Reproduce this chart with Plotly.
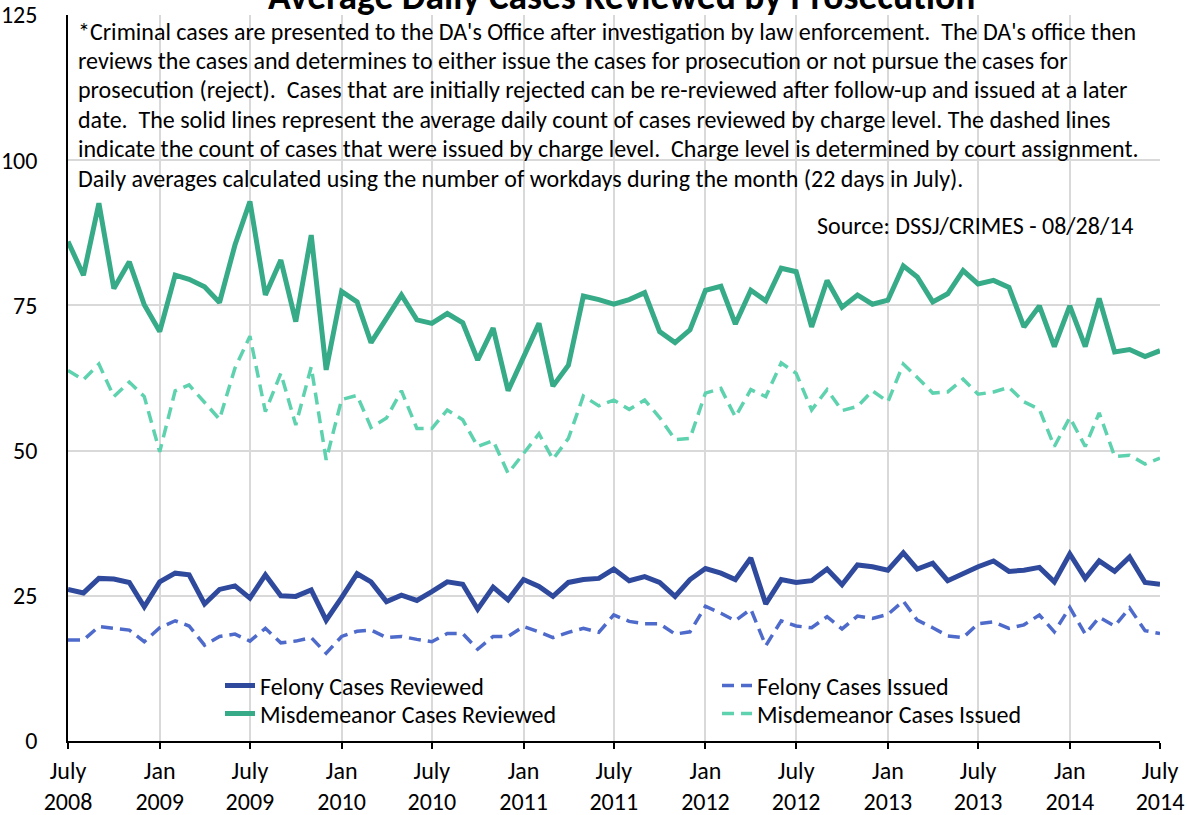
import pandas as pd
import plotly.graph_objects as go

months = pd.date_range("2008-07-01", "2014-07-01", freq="MS")

felony_reviewed = [26.1, 25.5, 28.0, 27.9, 27.3, 23.1, 27.4, 28.9, 28.6, 23.6, 26.1, 26.7, 24.6, 28.6, 25.0, 24.9, 26.0, 20.8, 24.7, 28.8,
                   27.4, 24.0, 25.1, 24.2, 25.7, 27.4, 27.0, 22.7, 26.5, 24.3, 27.8, 26.6, 24.9, 27.3, 27.8, 28.0, 29.6, 27.6, 28.3, 27.3,
                   24.9, 27.8, 29.7, 28.9, 27.8, 31.5, 23.6, 27.8, 27.3, 27.6, 29.6, 26.9, 30.3, 30.0, 29.4, 32.4, 29.6, 30.6, 27.6, 28.9,
                   30.0, 31.0, 29.2, 29.4, 29.9, 27.4, 32.2, 28.0, 31.0, 29.2, 31.7, 27.3, 27.0]
felony_issued = [17.4, 17.4, 19.7, 19.4, 19.1, 17.1, 19.5, 20.7, 19.8, 16.5, 18.0, 18.4, 17.2, 19.4, 16.9, 17.2, 17.8, 15.1, 18.0, 18.9,
                 19.1, 17.8, 18.0, 17.5, 17.1, 18.5, 18.5, 15.8, 18.0, 18.0, 19.7, 18.8, 17.8, 18.7, 19.4, 18.7, 21.7, 20.6, 20.2, 20.2,
                 18.4, 18.8, 23.2, 22.0, 20.7, 22.7, 16.4, 20.7, 19.8, 19.5, 21.4, 19.3, 21.5, 21.1, 21.8, 24.1, 20.8, 19.5, 18.1, 17.8,
                 20.2, 20.5, 19.4, 20.0, 21.7, 18.8, 23.0, 18.4, 21.3, 19.8, 22.9, 19.0, 18.5]
misd_reviewed = [86.0, 80.2, 92.6, 77.9, 82.5, 75.1, 70.5, 80.2, 79.5, 78.2, 75.5, 85.4, 92.9, 76.8, 82.8, 72.2, 87.1, 63.9, 77.4, 75.6,
                 68.6, 72.8, 76.8, 72.5, 71.9, 73.6, 72.0, 65.6, 71.1, 60.3, 66.2, 71.9, 61.1, 64.7, 76.6, 76.0, 75.2, 76.0, 77.2, 70.5,
                 68.6, 70.8, 77.6, 78.3, 71.8, 77.6, 75.8, 81.4, 80.8, 71.3, 79.3, 74.7, 76.8, 75.2, 75.9, 81.8, 79.9, 75.6, 77.0, 81.0,
                 78.7, 79.3, 78.1, 71.3, 74.9, 67.9, 74.9, 67.9, 76.2, 67.0, 67.4, 66.2, 67.2]
misd_issued = [63.8, 62.2, 64.9, 59.3, 61.8, 59.3, 49.8, 60.3, 61.3, 58.4, 55.4, 64.2, 69.7, 56.7, 63.3, 54.4, 64.4, 48.4, 58.8, 59.5,
               54.0, 55.6, 60.3, 53.8, 53.8, 57.0, 55.3, 50.7, 51.7, 46.1, 49.6, 52.9, 48.5, 52.1, 59.4, 57.7, 58.7, 57.1, 58.7, 55.7,
               51.9, 52.1, 59.9, 60.7, 55.8, 60.5, 59.3, 65.1, 63.3, 57.0, 60.5, 56.9, 57.6, 60.3, 58.4, 64.9, 62.6, 59.9, 60.1, 62.3,
               59.7, 60.1, 60.9, 58.4, 57.1, 50.7, 55.7, 50.7, 56.5, 49.0, 49.2, 47.7, 48.7]

tick_dates = pd.date_range("2008-07-01", "2014-07-01", freq="6MS")
tick_labels = [("July" if d.month == 7 else "Jan") + "<br>" + str(d.year) for d in tick_dates]
y_ticks = [0, 25, 50, 75, 100, 125]

title_text = "Average Daily Cases Reviewed by Prosecution"
note_lines = [
    "*Criminal cases are presented to the DA's Office after investigation by law enforcement.  The DA's office then",
    "reviews the cases and determines to either issue the cases for prosecution or not pursue the cases for",
    "prosecution (reject).  Cases that are initially rejected can be re-reviewed after follow-up and issued at a later",
    "date.  The solid lines represent the average daily count of cases reviewed by charge level. The dashed lines",
    "indicate the count of cases that were issued by charge level.  Charge level is determined by court assignment.",
    "Daily averages calculated using the number of workdays during the month (22 days in July).",
]
source_text = "Source: DSSJ/CRIMES - 08/28/14"

FONT = "Carlito, Lato, sans-serif"
FS = 24

W, H = 1188, 815
L, T = 68, 15
PR, PB = 1160, 741  # plot right / bottom in pixels
R, B = W - PR, H - PB
pw, ph = PR - L, PB - T


def px_x(s):
    return (s - L) / pw


def px_y(s):
    return (PB - s) / ph


fig = go.Figure()
series = [
    ("Felony Cases Reviewed", felony_reviewed, "#2F4A9C", "solid", 5, "legend"),
    ("Felony Cases Issued", felony_issued, "#4E6ACB", "12px,7px", 3.5, "legend2"),
    ("Misdemeanor Cases Reviewed", misd_reviewed, "#37AB87", "solid", 5, "legend3"),
    ("Misdemeanor Cases Issued", misd_issued, "#5ED2AE", "12px,7px", 3.5, "legend4"),
]
for name, vals, color, dash, w, lg in series:
    fig.add_trace(go.Scatter(x=months, y=vals, mode="lines", name=name, legend=lg,
                             line=dict(color=color, width=w, dash=dash)))

shapes = [
    dict(type="rect", xref="paper", yref="paper", x0=0, x1=px_x(1147), y0=px_y(193), y1=1,
         fillcolor="white", line=dict(width=0), layer="between"),
    dict(type="rect", xref="paper", yref="paper", x0=px_x(808), x1=px_x(1147), y0=px_y(247), y1=px_y(207),
         fillcolor="white", line=dict(width=0), layer="between"),
    dict(type="rect", xref="paper", yref="paper", x0=px_x(172), x1=px_x(1045), y0=px_y(727), y1=px_y(676),
         fillcolor="white", line=dict(width=0), layer="between"),
]

annotations = []
for i, line in enumerate(note_lines):
    annotations.append(dict(text=line, xref="paper", yref="paper", x=px_x(76), y=px_y(31 + 29.4 * i),
                            xanchor="left", yanchor="middle", showarrow=False,
                            font=dict(family=FONT, size=FS, color="black")))
annotations.append(dict(text=source_text, xref="paper", yref="paper", x=px_x(1136), y=px_y(225),
                        xanchor="right", yanchor="middle", showarrow=False,
                        font=dict(family=FONT, size=FS, color="black")))
annotations.append(dict(text="<b>" + title_text + "</b>", xref="paper", yref="paper", x=px_x(621), y=px_y(-4),
                        xanchor="center", yanchor="middle", showarrow=False,
                        font=dict(family=FONT, size=37.5, color="black")))

leg_common = dict(orientation="v", yanchor="middle", xanchor="left", bgcolor="rgba(0,0,0,0)",
                  font=dict(family=FONT, size=FS, color="black"))

fig.update_layout(
    width=W, height=H,
    margin=dict(l=L, r=R, t=T, b=B, autoexpand=False),
    paper_bgcolor="white", plot_bgcolor="white",
    font=dict(family=FONT, size=FS, color="black"),
    showlegend=True,
    legend=dict(x=px_x(220), y=px_y(686), **leg_common),
    legend2=dict(x=px_x(717), y=px_y(686), **leg_common),
    legend3=dict(x=px_x(220), y=px_y(714), **leg_common),
    legend4=dict(x=px_x(717), y=px_y(714), **leg_common),
    shapes=shapes,
    annotations=annotations,
)
fig.update_xaxes(range=[months[0], months[-1]], tickvals=tick_dates, ticktext=tick_labels,
                 showgrid=True, gridcolor="#D9D9D9", gridwidth=2,
                 showline=True, linecolor="black", linewidth=1.5,
                 ticks="outside", ticklen=6, tickcolor="black", tickwidth=1.5,
                 ticklabelstandoff=1, ticklabeloverflow="allow",
                 tickfont=dict(family=FONT, size=FS), zeroline=False, automargin=False)
fig.update_yaxes(range=[0, 125], tickvals=y_ticks, showgrid=True, gridcolor="#D9D9D9", gridwidth=2,
                 showline=True, linecolor="black", linewidth=1.5, ticks="", zeroline=False,
                 ticklabelstandoff=24, ticklabeloverflow="allow",
                 tickfont=dict(family=FONT, size=FS), automargin=False)

fig.write_html("out.html", config={"displayModeBar": False},
               post_script="document.body.style.margin='0px';")
